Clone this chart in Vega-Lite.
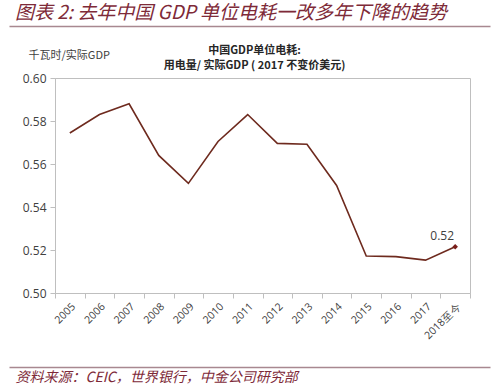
{
  "$schema": "https://vega.github.io/schema/vega-lite/v6.json",
  "background": "white",
  "padding": {"left": 9, "top": 4, "right": 5, "bottom": 0},
  "width": 415,
  "height": 215,
  "config": {"font": "Noto Sans CJK SC"},
  "view": {"stroke": "#BFBFBF", "strokeWidth": 1},
  "title": {
    "text": "图表 2:  去年中国 GDP 单位电耗一改多年下降的趋势",
    "anchor": "start",
    "frame": "bounds",
    "fontSize": 19,
    "fontStyle": "italic",
    "fontWeight": "normal",
    "color": "#7E2A38",
    "dx": 6,
    "offset": 3
  },
  "datasets": {
    "series": [
      {"year": "2005", "v": 0.5744},
      {"year": "2006", "v": 0.583},
      {"year": "2007", "v": 0.588},
      {"year": "2008", "v": 0.564},
      {"year": "2009", "v": 0.551},
      {"year": "2010", "v": 0.5705},
      {"year": "2011", "v": 0.583},
      {"year": "2012", "v": 0.5696},
      {"year": "2013", "v": 0.5692},
      {"year": "2014", "v": 0.550},
      {"year": "2015", "v": 0.5172},
      {"year": "2016", "v": 0.5169},
      {"year": "2017", "v": 0.5153},
      {"year": "2018至今", "v": 0.5215}
    ],
    "sep": [{"a": 0, "b": 1}]
  },
  "layer": [
    {
      "data": {"name": "series"},
      "mark": {"type": "line", "color": "#6E2A1E", "strokeWidth": 1.6},
      "encoding": {
        "x": {
          "field": "year",
          "type": "ordinal",
          "bandPosition": 0.5,
          "scale": {"type": "band", "domain": ["2005","2006","2007","2008","2009","2010","2011","2012","2013","2014","2015","2016","2017","2018至今"], "paddingInner": 0, "paddingOuter": 0},
          "axis": {
            "orient": "bottom",
            "title": null,
            "labelAngle": -45,
            "labelFontSize": 10.5,
            "labelColor": "#404040",
            "labelFont": "Open Sans",
            "tickBand": "extent",
            "domainColor": "#BFBFBF",
            "tickColor": "#BFBFBF",
            "tickSize": 5,
            "labelPadding": 3
          }
        },
        "y": {
          "field": "v",
          "type": "quantitative",
          "scale": {"domain": [0.5, 0.6], "nice": false, "zero": false},
          "axis": {
            "values": [0.5, 0.52, 0.54, 0.56, 0.58, 0.6],
            "format": ".2f",
            "grid": false,
            "labelFontSize": 12,
            "labelFont": "Open Sans",
            "labelColor": "#404040",
            "domainColor": "#BFBFBF",
            "tickColor": "#BFBFBF",
            "tickSize": 5,
            "labelPadding": 4,
            "title": "千瓦时/实际GDP",
            "titleAngle": 0,
            "titleAlign": "left",
            "titleBaseline": "middle",
            "titleX": -27,
            "titleY": -23,
            "titleFontSize": 11,
            "titleFontWeight": "normal",
            "titleColor": "#404040"
          }
        }
      }
    },
    {
      "data": {"name": "series"},
      "transform": [{"filter": "datum.year == '2018至今'"}],
      "mark": {"type": "point", "shape": "diamond", "filled": true, "color": "#7A1E1A", "size": 30, "opacity": 1},
      "encoding": {
        "x": {
          "field": "year",
          "type": "ordinal",
          "bandPosition": 0.5,
          "scale": {"type": "band", "domain": ["2005","2006","2007","2008","2009","2010","2011","2012","2013","2014","2015","2016","2017","2018至今"], "paddingInner": 0, "paddingOuter": 0},
          "axis": null
        },
        "y": {"field": "v", "type": "quantitative"}
      }
    },
    {
      "data": {"name": "series"},
      "transform": [{"filter": "datum.year == '2018至今'"}],
      "mark": {"type": "text", "dx": -13, "dy": -11, "fontSize": 12, "font": "Open Sans", "color": "#404040"},
      "encoding": {
        "x": {
          "field": "year",
          "type": "ordinal",
          "bandPosition": 0.5,
          "scale": {"type": "band", "domain": ["2005","2006","2007","2008","2009","2010","2011","2012","2013","2014","2015","2016","2017","2018至今"], "paddingInner": 0, "paddingOuter": 0},
          "axis": null
        },
        "y": {"field": "v", "type": "quantitative"},
        "text": {"field": "v", "type": "quantitative", "format": ".2f"}
      }
    },
    {
      "data": {"name": "sep"},
      "mark": {"type": "rule", "opacity": 0},
      "encoding": {
        "x": {
          "field": "a",
          "type": "quantitative",
          "scale": {"domain": [0, 1], "range": [-46, 435]},
          "axis": {
            "orient": "top", "offset": 52, "labels": false, "ticks": false, "grid": false,
            "domain": true, "domainColor": "#A88890", "domainWidth": 1.5,
            "title": ["中国GDP单位电耗:", "用电量/ 实际GDP ( 2017 不变价美元)"],
            "titleFontSize": 11,
            "titleFontWeight": "bold",
            "titleColor": "#262626",
            "titleLineHeight": 15,
            "titleX": 199,
            "titleY": 18,
            "titleAlign": "center",
            "titleBaseline": "top"
          }
        },
        "x2": {"field": "b"}
      }
    },
    {
      "data": {"name": "sep"},
      "mark": {"type": "rule", "opacity": 0},
      "encoding": {
        "x": {
          "field": "a",
          "type": "quantitative",
          "scale": {"domain": [0, 1], "range": [-46, 435]},
          "axis": {
            "orient": "bottom", "offset": 74, "labels": false, "ticks": false, "grid": false,
            "domain": true, "domainColor": "#A88890", "domainWidth": 1.5,
            "title": "资料来源：CEIC，世界银行，中金公司研究部",
            "titleX": -40,
            "titleAlign": "left",
            "titleBaseline": "top",
            "titlePadding": 3,
            "titleFontSize": 14,
            "titleFontStyle": "italic",
            "titleFontWeight": "normal",
            "titleColor": "#7E2A38"
          }
        },
        "x2": {"field": "b"}
      }
    }
  ],
  "resolve": {"scale": {"x": "independent"}, "axis": {"x": "independent"}}
}
